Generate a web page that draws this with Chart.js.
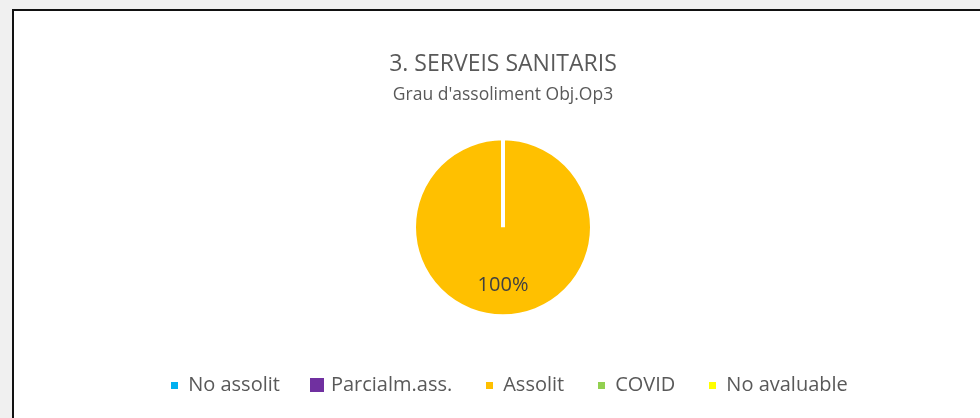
<!doctype html>
<meta charset="utf-8">
<title>Serveis sanitaris</title>
<style>
    html, body {
        margin: 0;
        width: 980px;
        height: 418px;
        overflow: hidden;
        background: #f0f0f0;
    }
    .frame {
        position: absolute;
        left: 12px;
        top: 9px;
        width: 1000px;
        height: 500px;
        background: #fff;
        border: 2px solid #111;
    }
    .chart {
        position: absolute;
        left: 15px;
        top: 11px;
        width: 976px;
        height: 407px;
    }
</style>
<body>
    <div class="frame"></div>
    <div class="chart"><canvas id="pie"></canvas></div>
    <script src="https://cdn.jsdelivr.net/npm/chart.js@4/dist/chart.umd.min.js"></script>
    <script>
        const categories = ["No assolit", "Parcialm.ass.", "Assolit", "COVID", "No avaluable"];
        const values = [0, 0, 100, 0, 0];
        const colors = ["#00B0F0", "#7030A0", "#FFC000", "#92D050", "#FFFF00"];

        const font = "'Open Sans', sans-serif";

        // legend markers: small squares, the second one drawn bigger as in the original
        const marker = (color, size) => {
            const c = document.createElement("canvas");
            c.width = size;
            c.height = size;
            const g = c.getContext("2d");
            g.fillStyle = color;
            g.fillRect(0, 0, size, size);
            return c;
        };

        // percentage label inside the slice, like the spreadsheet does
        const sliceLabels = {
            id: "sliceLabels",
            afterDatasetsDraw(chart) {
                const ctx = chart.ctx;
                const total = values.reduce((a, b) => a + b, 0);
                chart.getDatasetMeta(0).data.forEach((arc, i) => {
                    if (!values[i]) return;
                    const mid = (arc.startAngle + arc.endAngle) / 2;
                    const r = arc.outerRadius * 0.65;
                    ctx.save();
                    ctx.font = "20px " + font;
                    ctx.fillStyle = "#404040";
                    ctx.textAlign = "center";
                    ctx.textBaseline = "middle";
                    ctx.fillText(Math.round(100 * values[i] / total) + "%", arc.x + Math.cos(mid) * r, arc.y + Math.sin(mid) * r);
                    ctx.restore();
                });
            }
        };

        // the legend sits a little right of the pie in the original
        const legendNudge = {
            id: "legendNudge",
            afterLayout(chart) {
                chart.legend.left += 6;
                chart.legend.right += 6;
            }
        };

        new Chart(document.getElementById("pie"), {
            type: "pie",
            data: {
                labels: categories,
                datasets: [{
                    data: values,
                    backgroundColor: colors,
                    borderColor: "#fff",
                    borderWidth: 4,
                    radius: 89,
                }],
            },
            plugins: [sliceLabels, legendNudge],
            options: {
                responsive: true,
                maintainAspectRatio: false,
                animation: false,
                layout: { padding: { top: 0, bottom: 13 } },
                plugins: {
                    tooltip: { enabled: false },
                    title: {
                        display: true,
                        text: "3. SERVEIS SANITARIS",
                        color: "#595959",
                        font: { family: font, size: 23, weight: "normal" },
                        padding: { top: 40, bottom: 6 },
                    },
                    subtitle: {
                        display: true,
                        text: "Grau d'assoliment Obj.Op3",
                        color: "#595959",
                        font: { family: font, size: 17.5, weight: "normal" },
                        padding: { top: 0, bottom: 7 },
                    },
                    legend: {
                        position: "bottom",
                        labels: {
                            color: "#595959",
                            font: { family: font, size: 20 },
                            usePointStyle: true,
                            boxWidth: 8,
                            boxHeight: 8,
                            padding: 33,
                            generateLabels(chart) {
                                return Chart.overrides.pie.plugins.legend.labels.generateLabels(chart)
                                    .map((item, i) => Object.assign(item, {
                                        lineWidth: 0,
                                        pointStyle: marker(colors[i], i === 1 ? 14 : 7),
                                    }));
                            },
                        },
                    },
                },
            },
        });
    </script>
</body>
